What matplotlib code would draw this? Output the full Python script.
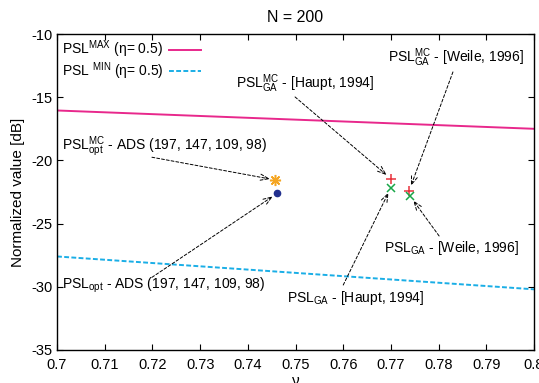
import matplotlib
matplotlib.use("Agg")
import matplotlib.pyplot as plt

plt.rcParams['font.family'] = ['Liberation Sans', 'DejaVu Sans']
plt.rcParams['mathtext.fontset'] = 'custom'
plt.rcParams['mathtext.rm'] = 'Liberation Sans'
plt.rcParams['mathtext.it'] = 'Liberation Sans:italic'
plt.rcParams['mathtext.default'] = 'regular'
plt.rcParams['axes.unicode_minus'] = False

# bound lines (eta = 0.5) over the nu range
nu_line = [0.7, 0.8]
psl_max = [-16.05, -17.5]
psl_min = [-27.6, -30.2]

# single design points (nu, normalized PSL in dB)
ads_mc = (0.7458, -21.55)
ads = (0.7462, -22.6)
haupt_mc = (0.7700, -21.45)
haupt_ga = (0.7700, -22.15)
weile_mc = (0.7738, -22.42)
weile_ga = (0.7740, -22.82)

xticks = [0.7, 0.71, 0.72, 0.73, 0.74, 0.75, 0.76, 0.77, 0.78, 0.79, 0.8]
xticklabels = ['0.7', '0.71', '0.72', '0.73', '0.74', '0.75', '0.76', '0.77', '0.78', '0.79', '0.8']
yticks = [-35, -30, -25, -20, -15, -10]

fig = plt.figure(figsize=(5.39, 3.83), dpi=100)
ax = fig.add_axes([0.1058, 0.0862, 0.885, 0.825])

ax.plot(nu_line, psl_max, color='#e8288c', lw=1.4,
        label=r'PSL$^{MAX}$ ($\eta$= 0.5)')
ax.plot(nu_line, psl_min, color='#1aaee6', lw=1.4, ls=(0, (2.5, 1.2)),
        label=r'PSL $^{MIN}$ ($\eta$= 0.5)')

ax.plot(*ads_mc, marker=(8, 2, 0), color='#f5a623', ms=8, mew=1.1, ls='none')
ax.plot(*ads, marker='o', color='#23318f', ms=4.5, ls='none')
ax.plot(*haupt_mc, marker='+', color='#e8323c', ms=7, mew=1.1, ls='none')
ax.plot(*haupt_ga, marker='x', color='#18a648', ms=6, mew=1.1, ls='none')
ax.plot(*weile_mc, marker='+', color='#e8323c', ms=7, mew=1.1, ls='none')
ax.plot(*weile_ga, marker='x', color='#18a648', ms=6, mew=1.1, ls='none')

fs = 10
arrow = dict(arrowstyle='->,head_length=0.6,head_width=0.22', color='black',
             lw=0.7, ls=(0, (3, 2)), shrinkA=0, shrinkB=4)

# labels and the dashed leader arrows
ax.text(0.70105, -18.94, r'PSL$^{MC}_{opt}$ - ADS (197, 147, 109, 98)', fontsize=fs, va='center')
ax.annotate('', xy=ads_mc, xytext=(0.7199, -19.75), arrowprops=arrow)

ax.text(0.70105, -29.86, r'PSL$_{opt}$ - ADS (197, 147, 109, 98)', fontsize=fs, va='center')
ax.annotate('', xy=ads, xytext=(0.7199, -29.25), arrowprops=arrow)

ax.text(0.7375, -13.96, r'PSL$^{MC}_{GA}$ - [Haupt, 1994]', fontsize=fs, va='center')
ax.annotate('', xy=haupt_mc, xytext=(0.7499, -14.98), arrowprops=arrow)

ax.text(0.7694, -11.9, r'PSL$^{MC}_{GA}$ - [Weile, 1996]', fontsize=fs, va='center')
ax.annotate('', xy=weile_mc, xytext=(0.7830, -13.0), arrowprops=arrow)

ax.text(0.7686, -26.93, r'PSL$_{GA}$ - [Weile, 1996]', fontsize=fs, va='center')
ax.annotate('', xy=weile_ga, xytext=(0.7801, -25.98), arrowprops=arrow)

ax.text(0.7482, -30.89, r'PSL$_{GA}$ - [Haupt, 1994]', fontsize=fs, va='center')
ax.annotate('', xy=haupt_ga, xytext=(0.7600, -29.86), arrowprops=arrow)

ax.set_xlim(0.7, 0.8)
ax.set_ylim(-35, -10)
ax.set_xticks(xticks)
ax.set_xticklabels(xticklabels)
ax.set_yticks(yticks)
ax.tick_params(direction='in', top=True, right=True, labelsize=10.5, length=4, width=0.8)
ax.tick_params(axis='x', pad=6)
for s in ax.spines.values():
    s.set_linewidth(1.0)

ax.set_title('N = 200', fontsize=11.5, pad=9)
ax.set_xlabel(r'$\nu$', fontsize=11, labelpad=1)
ax.set_ylabel('Normalized value [dB]', fontsize=11, labelpad=4)

ax.legend(loc='upper left', frameon=False, markerfirst=False, fontsize=fs,
          handlelength=2.3, borderaxespad=0.1, labelspacing=0.0, handletextpad=0.4,
          borderpad=0.25)

fig.savefig('out.png', dpi=100)
